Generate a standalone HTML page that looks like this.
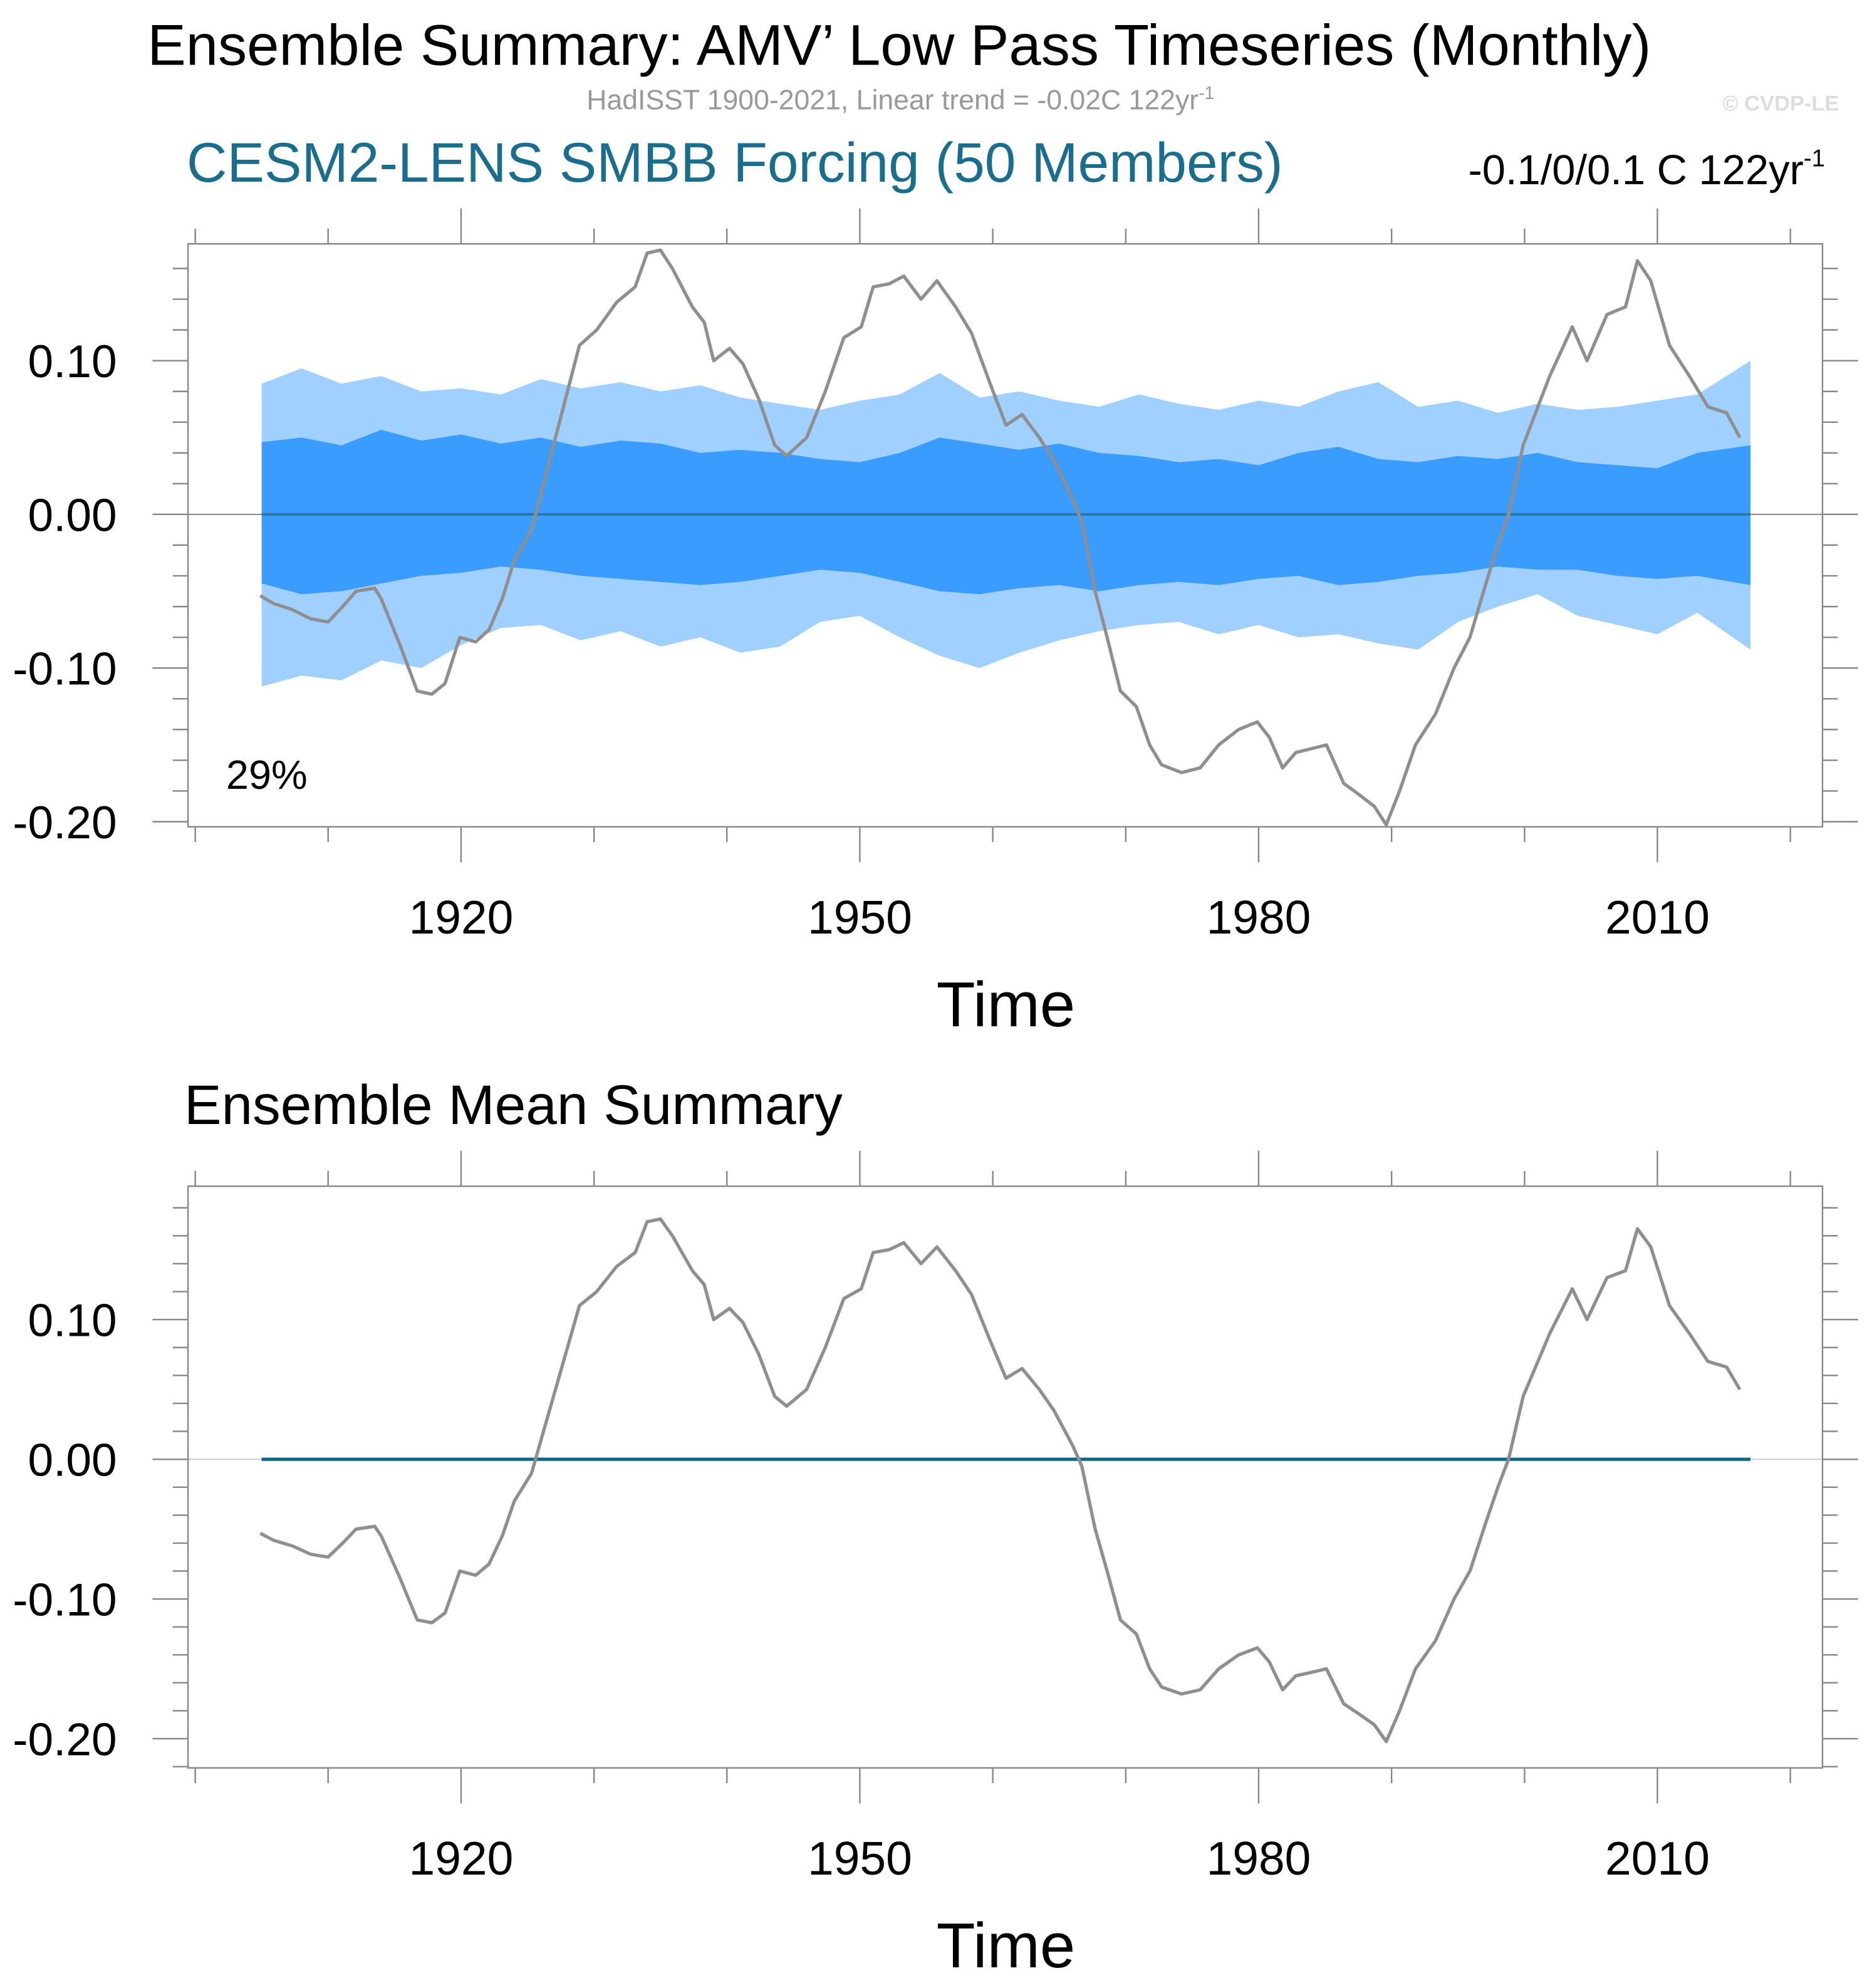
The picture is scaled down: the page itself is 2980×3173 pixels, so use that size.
<!DOCTYPE html>
<html><head><meta charset="utf-8">
<style>html,body{margin:0;padding:0;background:#fff}svg{display:block}text{font-family:"Liberation Sans",sans-serif}</style>
</head><body>
<svg id="chart" width="2980" height="3173" viewBox="0 0 1470 1565.3" xmlns="http://www.w3.org/2000/svg">
<text x="708" y="51" font-size="45.5" text-anchor="middle">Ensemble Summary: AMV’ Low Pass Timeseries (Monthly)</text>
<text x="709" y="86" font-size="22" fill="#999" text-anchor="middle">HadISST 1900-2021, Linear trend = -0.02C 122yr<tspan dy="-8" font-size="14">-1</tspan></text>
<text x="1448" y="87" font-size="17" font-weight="bold" fill="#ddd" text-anchor="end">© CVDP-LE</text>
<text x="147" y="143" font-size="44" fill="#1a6d8c">CESM2-LENS SMBB Forcing (50 Members)</text>
<text x="1437" y="145" font-size="33" text-anchor="end">-0.1/0/0.1 C 122yr<tspan dy="-14" font-size="19">-1</tspan></text>
<text x="145" y="885" font-size="44">Ensemble Mean Summary</text>
<g id="p1"></g><g id="p2"></g>
</svg>
<script>
const obsYears=[1904.9,1905.9,1907.3,1908.7,1910.0,1911.1,1912.1,1913.5,1914.0,1915.4,1916.7,1917.8,1918.8,1919.9,1921.1,1922.1,1923.1,1924.0,1925.3,1926.2,1927.4,1928.9,1930.2,1931.7,1933.1,1934.0,1935.0,1935.9,1937.4,1938.3,1939.0,1940.2,1941.2,1942.4,1943.6,1944.5,1946.0,1947.4,1948.8,1950.1,1951.0,1952.2,1953.3,1954.6,1955.8,1957.2,1958.4,1959.8,1961.0,1962.2,1963.5,1964.6,1966.0,1966.7,1967.7,1968.6,1969.6,1970.8,1971.8,1972.7,1974.2,1975.6,1977.0,1978.5,1979.9,1980.8,1981.8,1982.8,1984.2,1985.1,1986.4,1987.5,1988.7,1989.6,1990.6,1991.8,1993.3,1994.7,1995.9,1997.1,1998.0,1998.8,1999.9,2001.9,2003.6,2004.7,2006.2,2007.6,2008.5,2009.5,2010.9,2012.4,2013.8,2015.2,2016.2];
const obsValues=[-0.053,-0.058,-0.062,-0.068,-0.070,-0.060,-0.050,-0.048,-0.055,-0.085,-0.115,-0.117,-0.110,-0.080,-0.083,-0.075,-0.055,-0.030,-0.010,0.020,0.060,0.110,0.120,0.138,0.148,0.170,0.172,0.160,0.135,0.125,0.100,0.108,0.098,0.075,0.045,0.038,0.050,0.080,0.115,0.122,0.148,0.150,0.155,0.140,0.152,0.135,0.118,0.085,0.058,0.065,0.050,0.035,0.010,-0.005,-0.050,-0.080,-0.115,-0.125,-0.150,-0.163,-0.168,-0.165,-0.150,-0.140,-0.135,-0.145,-0.165,-0.155,-0.152,-0.150,-0.175,-0.182,-0.190,-0.202,-0.180,-0.150,-0.130,-0.100,-0.080,-0.045,-0.020,0.000,0.045,0.090,0.122,0.100,0.130,0.135,0.165,0.152,0.110,0.090,0.070,0.066,0.050];
const bandYears=[1905,1908,1911,1914,1917,1920,1923,1926,1929,1932,1935,1938,1941,1944,1947,1950,1953,1956,1959,1962,1965,1968,1971,1974,1977,1980,1983,1986,1989,1992,1995,1998,2001,2004,2007,2010,2013,2017];
const outerUpper=[0.085,0.095,0.085,0.090,0.080,0.082,0.078,0.088,0.082,0.086,0.080,0.084,0.076,0.072,0.068,0.074,0.078,0.092,0.076,0.080,0.074,0.070,0.078,0.072,0.068,0.074,0.070,0.080,0.086,0.070,0.074,0.066,0.072,0.068,0.070,0.074,0.078,0.100];
const outerLower=[-0.112,-0.105,-0.108,-0.095,-0.100,-0.085,-0.074,-0.072,-0.082,-0.076,-0.086,-0.080,-0.090,-0.086,-0.070,-0.066,-0.080,-0.092,-0.100,-0.090,-0.082,-0.076,-0.072,-0.070,-0.078,-0.072,-0.080,-0.078,-0.084,-0.088,-0.070,-0.060,-0.052,-0.066,-0.072,-0.078,-0.064,-0.088];
const innerUpper=[0.047,0.050,0.045,0.055,0.048,0.052,0.046,0.050,0.044,0.048,0.046,0.040,0.042,0.040,0.036,0.034,0.040,0.050,0.046,0.042,0.046,0.040,0.038,0.034,0.036,0.032,0.040,0.044,0.036,0.034,0.038,0.036,0.040,0.034,0.032,0.030,0.040,0.045];
const innerLower=[-0.045,-0.052,-0.050,-0.045,-0.040,-0.038,-0.034,-0.036,-0.040,-0.042,-0.044,-0.046,-0.044,-0.040,-0.036,-0.038,-0.044,-0.050,-0.052,-0.048,-0.046,-0.050,-0.046,-0.044,-0.046,-0.042,-0.040,-0.046,-0.044,-0.040,-0.038,-0.034,-0.036,-0.036,-0.040,-0.042,-0.040,-0.046];
const ensMeanYears=[1905,2017];
const ensMeanValues=[0,0];
const yTicks=[0.10,0.00,-0.10,-0.20];
const yTickLabels=["0.10","0.00","-0.10","-0.20"];
const xTicks=[1920,1950,1980,2010];

const NS="http://www.w3.org/2000/svg";
function mk(parent,tag,attrs){const e=document.createElementNS(NS,tag);for(const k in attrs)e.setAttribute(k,attrs[k]);parent.appendChild(e);return e;}
function panel(g,top,bot,y0,pxPerUnit,bands){
  const L=148,R=1435;
  const X=yr=>363+(yr-1920)*10.467;
  const Y=v=>y0-v*pxPerUnit;
  const lt=(xs,ys)=>xs.map((x,i)=>X(x).toFixed(1)+','+Y(ys[i]).toFixed(1));
  if(bands){
    let p=mk(g,'polygon',{points:lt(bandYears,outerUpper).concat(lt(bandYears,outerLower).reverse()).join(' '),fill:'#a0d0ff'});
    
    p=mk(g,'polygon',{points:lt(bandYears,innerUpper).concat(lt(bandYears,innerLower).reverse()).join(' '),fill:'#3a9cff'});
    
  }
  let z=mk(g,'line',{x1:L,x2:R,y1:Y(0),y2:Y(0),stroke:bands?'#8a8a8a':'#ccc','stroke-width':1});
  
  let m=mk(g,'polyline',{points:lt(ensMeanYears,ensMeanValues).join(' '),fill:'none',stroke:bands?'#2a77b0':'#116684','stroke-width':bands?2:2.6});
  
  let o=mk(g,'polyline',{points:lt(obsYears,obsValues).join(' '),fill:'none',stroke:'#8f8f8f','stroke-width':2.6,'stroke-linejoin':'round'});
  
  let b=mk(g,'rect',{x:L,y:top,width:R-L,height:bot-top,fill:'none',stroke:'#888','stroke-width':1.2});
  
  const tk=[];
  for(let v=-0.24;v<=0.2;v+=0.02){const y=Y(v);if(y<top-0.5||y>bot+0.5)continue;
    const maj=Math.abs(v*10-Math.round(v*10))<1e-6;const len=maj?28:12;
    tk.push(`M${L-len},${y.toFixed(1)}H${L}M${R},${y.toFixed(1)}H${R+len}`);}
  for(let yr=1900;yr<=2020;yr+=10){const x=X(yr);const maj=xTicks.includes(yr);const len=maj?28:12;
    tk.push(`M${x.toFixed(1)},${top-len}V${top}M${x.toFixed(1)},${bot}V${bot+len}`);}
  let t=mk(g,'path',{d:tk.join(''),stroke:'#888','stroke-width':1.2,fill:'none'});
  
  yTicks.forEach((v,i)=>{const e=mk(g,'text',{x:92,y:Y(v)+13,'font-size':36,'text-anchor':'end'});e.textContent=yTickLabels[i];
    });
  xTicks.forEach(yr=>{const e=mk(g,'text',{x:X(yr),y:bot+84,'font-size':37,'text-anchor':'middle'});e.textContent=String(yr);
    });
  const ti=mk(g,'text',{x:792,y:bot+157,'font-size':50,'text-anchor':'middle'});ti.textContent='Time';
  
}
const p1=document.getElementById('p1'),p2=document.getElementById('p2');
panel(p1,192,651,405,1210,true);
panel(p2,934,1392,1149,1100,false);
const pc=mk(p1,'text',{x:178,y:621,'font-size':32});pc.textContent='29%';

</script>
</body></html>
